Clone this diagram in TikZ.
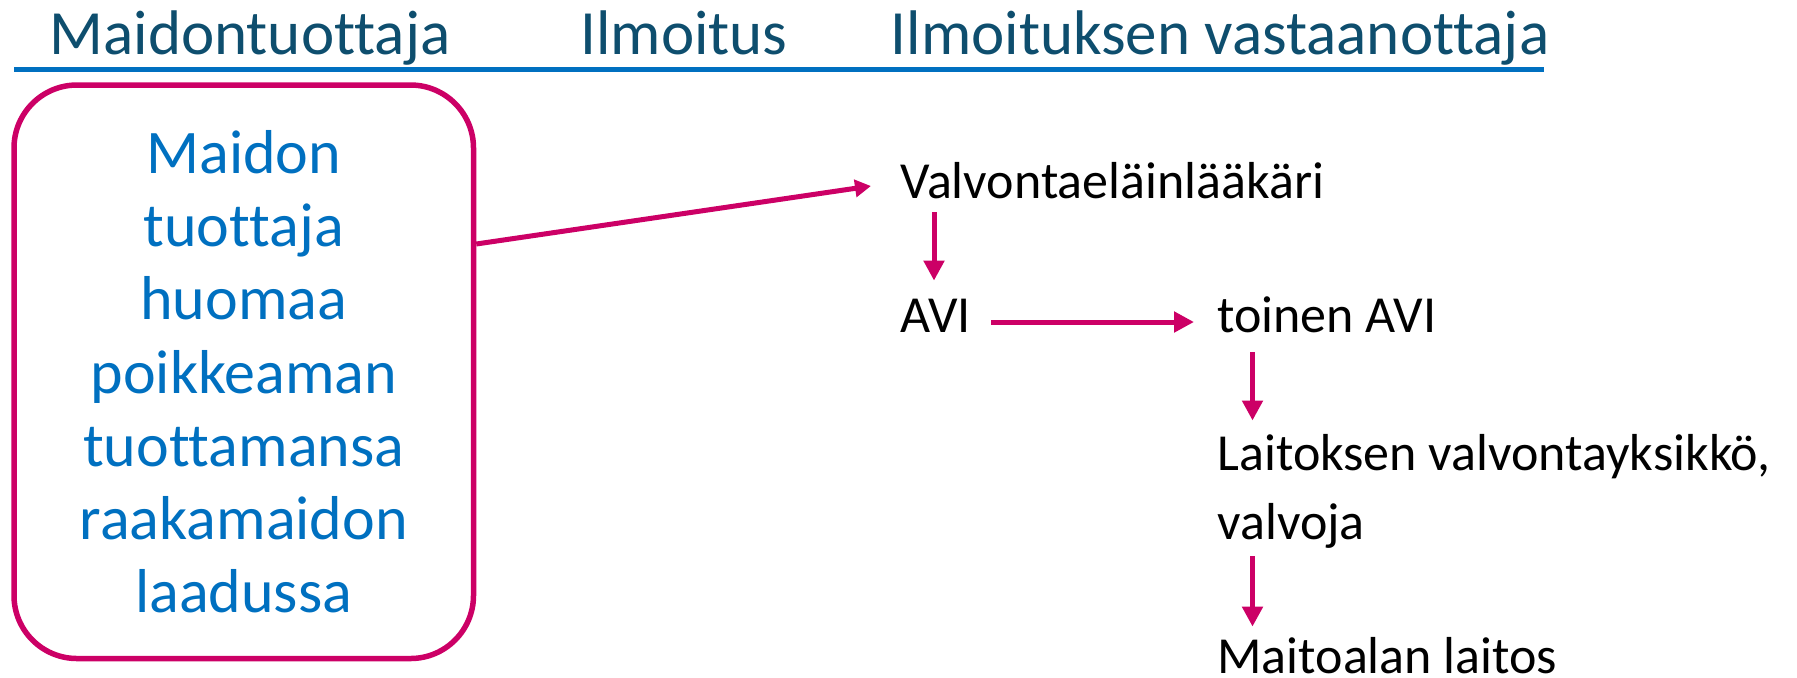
\documentclass[tikz,border=0pt]{standalone}
\usepackage{fontspec}
\setmainfont[Ligatures=NoCommon]{Carlito}
\usetikzlibrary{arrows.meta,calc}
\definecolor{hdrc}{HTML}{0E4E6E}
\definecolor{blu}{HTML}{0070C0}
\definecolor{mag}{HTML}{CC0066}
\begin{document}
\begin{tikzpicture}[x=0.5pt,y=-0.5pt,
  hdr/.style={font=\fontsize{31.5}{38}\selectfont, text=hdrc, inner sep=0, anchor=base},
  lbl/.style={font=\fontsize{26}{34.5}\selectfont, inner sep=0, anchor=base west, text height=19.5pt, text depth=6.5pt},
  lbltwo/.style={font=\fontsize{26}{34.5}\selectfont, inner sep=0, anchor=base west, align=left},
  conn/.style={draw=mag, line width=2.5pt, -{Triangle[length=10pt,width=10pt]}},
  box/.style={draw=mag, line width=2.75pt, rounded corners=31.5pt, text=blu, font=\fontsize{31}{36.6}\selectfont, align=center, minimum width=229.75pt, minimum height=286.75pt, inner sep=0}
]
\path[use as bounding box] (0,0) rectangle (1797,677);
\node[hdr] (h1) at (250,54) {Maidontuottaja};
\node[hdr] (h2) at (684,54) {Ilmoitus};
\node[hdr] (h3) at (1220,54) {Ilmoituksen vastaanottaja};
\coordinate (ul) at (14,69);
\coordinate (ur) at (1544,69);
\draw[blu, line width=2.5pt] (ul) -- (ur);

\node[box] (box) at (243.75,371.75) {Maidon\\tuottaja\\huomaa\\poikkeaman\\tuottamansa\\raakamaidon\\laadussa};

\node[lbl] (v) at (900,198) {Valvontaeläinlääkäri};
\node[lbl] (avi) at (900,332) {AVI};
\node[lbl] (avi2) at (1217,332) {toinen AVI};
\node[lbltwo] (lv) at (1217,539) {Laitoksen valvontayksikkö,\\valvoja};
\node[lbl] (ml) at (1217,673) {Maitoalan laitos};

\draw[conn, -{Triangle[length=8pt,width=8.5pt]}] ($(box.east)+(0,-127.75)$) -- ($(v.west)+(-29,1)$);
\draw[conn, shorten <=0.5pt, shorten >=6pt] ([xshift=17pt]v.south west) -- ([xshift=17pt]avi.north west);
\draw[conn, shorten <=10pt, shorten >=11.5pt] ($(avi.east)+(0,3)$) -- ($(avi2.west)+(0,3)$);
\draw[conn, shorten <=3.5pt, shorten >=6.5pt] ([xshift=17.75pt]avi2.south west) -- ([xshift=17.75pt]lv.north west);
\draw[conn, shorten <=4pt, shorten >=3.5pt] ([xshift=17.75pt]lv.south west) -- ([xshift=17.75pt]ml.north west);
\end{tikzpicture}
\end{document}
